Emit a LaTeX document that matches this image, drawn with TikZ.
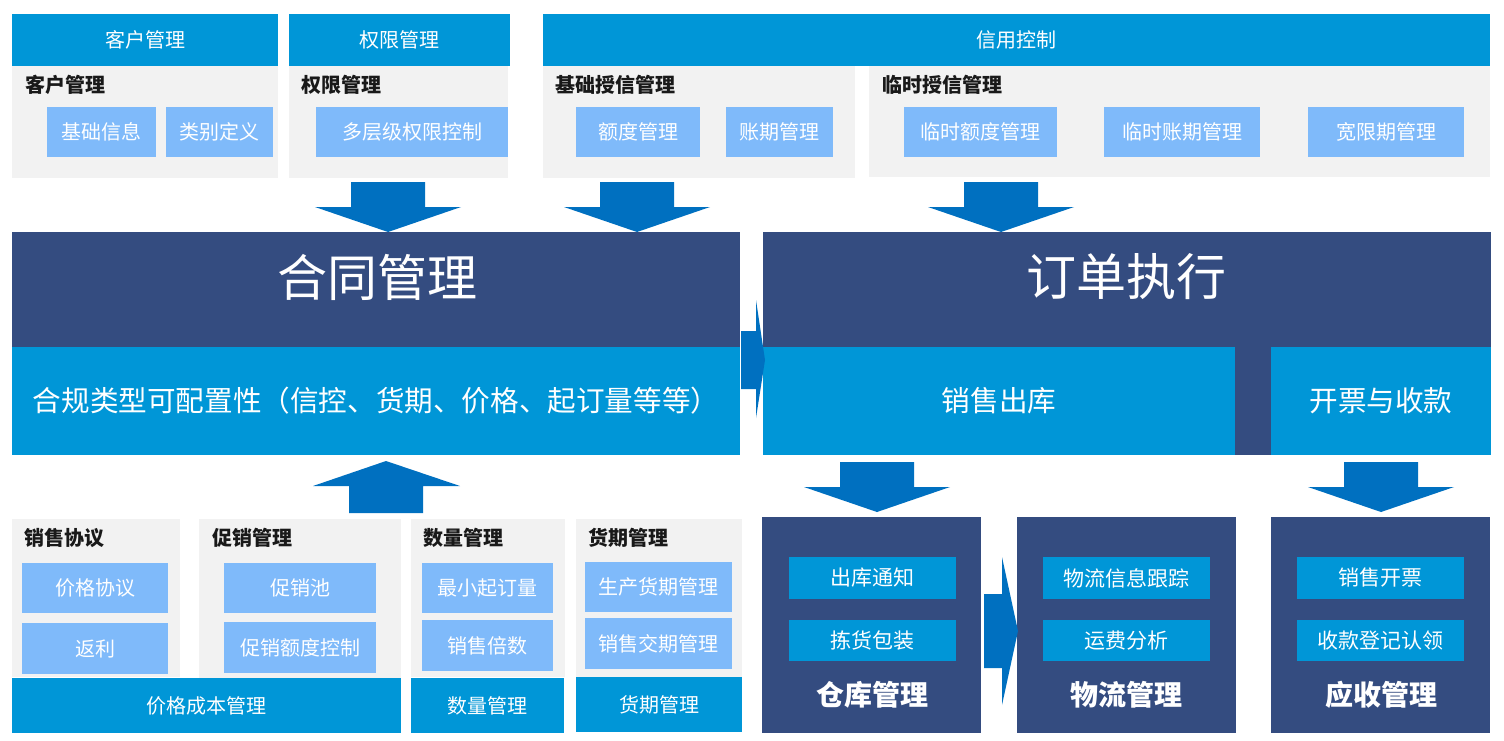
\documentclass[tikz,border=0pt]{standalone}
\usepackage{fontspec}
\setmainfont{Noto Sans CJK SC}
\usetikzlibrary{fit}
\definecolor{hdr}{HTML}{0096D7}
\definecolor{grayb}{HTML}{F2F2F2}
\definecolor{lightb}{HTML}{7FBAFA}
\definecolor{navy}{HTML}{344C80}
\definecolor{arrowb}{HTML}{0070C0}
\newcommand\placebox[7]{\node[#6, fit={(#2,#3) (#4,#5)}, inner sep=0pt] (#1) {};
  \node[#6, fill=none, inner sep=0pt] (#1-t) at (#1.center) {#7};}
\newcommand\downblock[2]{\fill[arrowb] (#1-37,#2) -- (#1+37,#2) -- (#1+37,#2+25) -- (#1+73,#2+25) -- (#1,#2+50) -- (#1-73,#2+25) -- (#1-37,#2+25) -- cycle;}
\begin{document}
\begin{tikzpicture}[x=0.5pt,y=-0.5pt,
  hdrbox/.style={fill=hdr, text=white, font=\fontsize{10}{12}\selectfont},
  graybox/.style={fill=grayb},
  lbox/.style={fill=lightb, text=white, font=\fontsize{10}{12}\selectfont},
  blabel/.style={anchor=west, inner sep=0pt, text=black!90, font=\fontsize{10}{12}\selectfont\bfseries},
  navybox/.style={fill=navy},
  bigtext/.style={text=white, inner sep=0pt, font=\fontsize{25}{30}\selectfont},
  bluebar/.style={fill=hdr, text=white, font=\fontsize{14.3}{17}\selectfont},
  footbar/.style={fill=hdr, text=white, font=\fontsize{10}{12}\selectfont},
  innerbox/.style={fill=hdr, text=white, font=\fontsize{10.5}{12}\selectfont},
  blocklabel/.style={text=white, inner sep=0pt, font=\fontsize{14}{17}\selectfont\bfseries}]
\useasboundingbox (0,0) rectangle (1504,740);
\fill[white] (0,0) rectangle (1504,740);
% top row
\placebox{h1}{12}{14}{278}{66}{hdrbox}{客户管理}
\placebox{g1}{12}{66}{278}{178}{graybox}{}
\node[blabel] (t1) at (25,85) {客户管理};
\placebox{b11}{47}{107}{156}{157}{lbox}{基础信息}
\placebox{b12}{166}{107}{273}{157}{lbox}{类别定义}
\placebox{h2}{289}{14}{510}{66}{hdrbox}{权限管理}
\placebox{g2}{289}{66}{508}{178}{graybox}{}
\node[blabel] (t2) at (301,85) {权限管理};
\placebox{b21}{316}{107}{508}{157}{lbox}{多层级权限控制}
\placebox{h3}{543}{14}{1490}{66}{hdrbox}{信用控制}
\placebox{g3}{543}{66}{855}{178}{graybox}{}
\node[blabel] (t3) at (555,85) {基础授信管理};
\placebox{b31}{576}{107}{700}{157}{lbox}{额度管理}
\placebox{b32}{726}{107}{833}{157}{lbox}{账期管理}
\placebox{g4}{869}{66}{1490}{177}{graybox}{}
\node[blabel] (t4) at (882,85) {临时授信管理};
\placebox{b41}{904}{107}{1057}{157}{lbox}{临时额度管理}
\placebox{b42}{1104}{107}{1260}{157}{lbox}{临时账期管理}
\placebox{b43}{1308}{107}{1464}{157}{lbox}{宽限期管理}
% top arrows
\downblock{388}{182}
\downblock{637}{182}
\downblock{1001}{182}
% main bars
\placebox{m1}{12}{232}{740}{347}{navybox}{}
\node[bigtext] (m1t) at (377,277) {合同管理};
\placebox{m2}{12}{347}{740}{455}{bluebar}{合规类型可配置性（信控、货期、价格、起订量等等）}
\placebox{o1}{763}{232}{1491}{455}{navybox}{}
\node[bigtext] (o1t) at (1126,277) {订单执行};
\placebox{o2}{763}{347}{1235}{455}{bluebar}{销售出库}
\placebox{o3}{1271}{347}{1491}{455}{bluebar}{开票与收款}
\fill[arrowb] (741,331) -- (756,331) -- (756,300) -- (765,360) -- (756,418) -- (756,389) -- (741,389) -- cycle;
% up arrow
\fill[arrowb] (349,513) -- (349,486) -- (313,486) -- (386,461) -- (460,486) -- (423,486) -- (423,513) -- cycle;
% bottom left
\placebox{s1}{12}{519}{180}{677}{graybox}{}
\node[blabel] (u1) at (24,538) {销售协议};
\placebox{s11}{22}{563}{168}{613}{lbox}{价格协议}
\placebox{s12}{22}{623}{168}{674}{lbox}{返利}
\placebox{s2}{199}{519}{401}{680}{graybox}{}
\node[blabel] (u2) at (212,538) {促销管理};
\placebox{s21}{224}{563}{376}{613}{lbox}{促销池}
\placebox{s22}{224}{622}{376}{673}{lbox}{促销额度控制}
\placebox{s3}{411}{519}{565}{677}{graybox}{}
\node[blabel] (u3) at (423,538) {数量管理};
\placebox{s31}{422}{563}{553}{613}{lbox}{最小起订量}
\placebox{s32}{422}{620}{553}{671}{lbox}{销售倍数}
\placebox{s4}{576}{519}{742}{677}{graybox}{}
\node[blabel] (u4) at (588,538) {货期管理};
\placebox{s41}{585}{562}{732}{612}{lbox}{生产货期管理}
\placebox{s42}{585}{618}{732}{669}{lbox}{销售交期管理}
\placebox{f1}{12}{678}{401}{733}{footbar}{价格成本管理}
\placebox{f2}{411}{678}{564}{733}{footbar}{数量管理}
\placebox{f3}{576}{677}{742}{732}{footbar}{货期管理}
% bottom arrows
\downblock{877}{462}
\downblock{1381}{462}
% bottom right blocks
\placebox{w}{762}{517}{981}{733}{navybox}{}
\placebox{w1}{789}{557}{956}{599}{innerbox}{出库通知}
\placebox{w2}{789}{620}{956}{661}{innerbox}{拣货包装}
\node[blocklabel] (wt) at (872,695) {仓库管理};
\placebox{l}{1017}{517}{1236}{733}{navybox}{}
\placebox{l1}{1043}{557}{1210}{599}{innerbox}{物流信息跟踪}
\placebox{l2}{1043}{620}{1210}{661}{innerbox}{运费分析}
\node[blocklabel] (lt) at (1126,695) {物流管理};
\placebox{r}{1271}{517}{1490}{733}{navybox}{}
\placebox{r1}{1297}{557}{1464}{599}{innerbox}{销售开票}
\placebox{r2}{1297}{620}{1464}{661}{innerbox}{收款登记认领}
\node[blocklabel] (rt) at (1381,695) {应收管理};
\fill[arrowb] (984,594) -- (1002,594) -- (1002,557) -- (1018,631) -- (1002,705) -- (1002,668) -- (984,668) -- cycle;
\end{tikzpicture}
\end{document}
